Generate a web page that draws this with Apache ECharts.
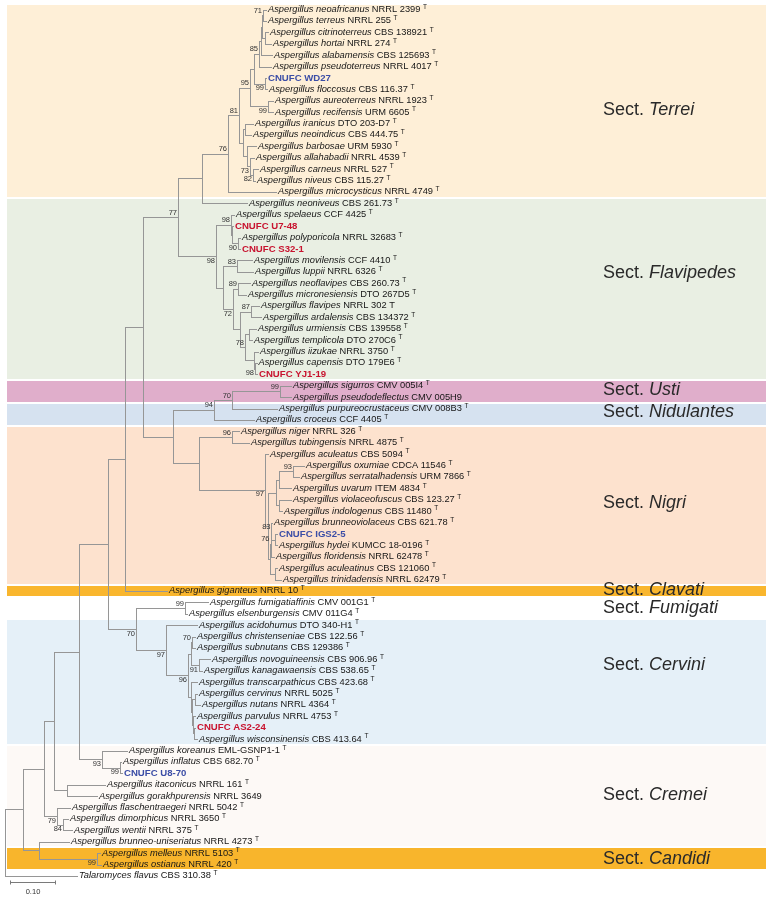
<!DOCTYPE html>
<html><head><meta charset="utf-8">
<script src="https://cdn.jsdelivr.net/npm/echarts@6/dist/echarts.min.js"></script>
<style>html,body{margin:0;padding:0;background:#fff}#c{width:770px;height:897px}</style>
</head><body><div id="c"></div>
<script>
// ---------- DATA ----------
// Leaf taxa, top to bottom
const leafNames = [
 'Aspergillus neoafricanus','Aspergillus terreus','Aspergillus citrinoterreus','Aspergillus hortai','Aspergillus alabamensis',
 'Aspergillus pseudoterreus','','Aspergillus floccosus','Aspergillus aureoterreus','Aspergillus recifensis',
 'Aspergillus iranicus','Aspergillus neoindicus','Aspergillus barbosae','Aspergillus allahabadii','Aspergillus carneus',
 'Aspergillus niveus','Aspergillus microcysticus','Aspergillus neoniveus','Aspergillus spelaeus','',
 'Aspergillus polyporicola','','Aspergillus movilensis','Aspergillus luppii','Aspergillus neoflavipes',
 'Aspergillus micronesiensis','Aspergillus flavipes','Aspergillus ardalensis','Aspergillus urmiensis','Aspergillus templicola',
 'Aspergillus iizukae','Aspergillus capensis','','Aspergillus sigurros','Aspergillus pseudodeflectus',
 'Aspergillus purpureocrustaceus','Aspergillus croceus','Aspergillus niger','Aspergillus tubingensis','Aspergillus aculeatus',
 'Aspergillus oxumiae','Aspergillus serratalhadensis','Aspergillus uvarum','Aspergillus violaceofuscus','Aspergillus indologenus',
 'Aspergillus brunneoviolaceus','','Aspergillus hydei','Aspergillus floridensis','Aspergillus aculeatinus',
 'Aspergillus trinidadensis','Aspergillus giganteus','Aspergillus fumigatiaffinis','Aspergillus elsenburgensis','Aspergillus acidohumus',
 'Aspergillus christenseniae','Aspergillus subnutans','Aspergillus novoguineensis','Aspergillus kanagawaensis','Aspergillus transcarpathicus',
 'Aspergillus cervinus','Aspergillus nutans','Aspergillus parvulus','','Aspergillus wisconsinensis',
 'Aspergillus koreanus','Aspergillus inflatus','','Aspergillus itaconicus','Aspergillus gorakhpurensis',
 'Aspergillus flaschentraegeri','Aspergillus dimorphicus','Aspergillus wentii','Aspergillus brunneo-uniseriatus','Aspergillus melleus',
 'Aspergillus ostianus','Talaromyces flavus'
];
const leafStrains = [
 'NRRL 2399','NRRL 255','CBS 138921','NRRL 274','CBS 125693',
 'NRRL 4017','CNUFC WD27','CBS 116.37','NRRL 1923','URM 6605',
 'DTO 203-D7','CBS 444.75','URM 5930','NRRL 4539','NRRL 527',
 'CBS 115.27','NRRL 4749','CBS 261.73','CCF 4425','CNUFC U7-48',
 'NRRL 32683','CNUFC S32-1','CCF 4410','NRRL 6326','CBS 260.73',
 'DTO 267D5','NRRL 302 T','CBS 134372','CBS 139558','DTO 270C6',
 'NRRL 3750','DTO 179E6','CNUFC YJ1-19','CMV 005I4','CMV 005H9',
 'CMV 008B3','CCF 4405','NRRL 326','NRRL 4875','CBS 5094',
 'CDCA 11546','URM 7866','ITEM 4834','CBS 123.27','CBS 11480',
 'CBS 621.78','CNUFC IGS2-5','KUMCC 18-0196','NRRL 62478','CBS 121060',
 'NRRL 62479','NRRL 10','CMV 001G1','CMV 011G4','DTO 340-H1',
 'CBS 122.56','CBS 129386','CBS 906.96','CBS 538.65','CBS 423.68',
 'NRRL 5025','NRRL 4364','NRRL 4753','CNUFC AS2-24','CBS 413.64',
 'EML-GSNP1-1','CBS 682.70','CNUFC U8-70','NRRL 161','NRRL 3649',
 'NRRL 5042','NRRL 3650','NRRL 375','NRRL 4273','NRRL 5103',
 'NRRL 420','CBS 310.38'
];
// 1 = ex-type (superscript T)
const leafTypeMark = [
 1,1,1,1,1, 1,0,1,1,1, 1,1,1,1,1, 1,1,1,1,0,
 1,0,1,1,1, 1,0,1,1,1, 1,1,0,1,0, 1,1,1,1,1,
 1,1,1,1,1, 1,0,1,1,1, 1,1,1,1,1, 1,1,1,1,1,
 1,1,1,0,1, 1,1,0,1,0, 1,1,1,1,1, 1,1
];
// new isolates of this study
const isolateGroup = {'CNUFC WD27':'blue','CNUFC U7-48':'red','CNUFC S32-1':'red','CNUFC YJ1-19':'red',
  'CNUFC IGS2-5':'blue','CNUFC AS2-24':'red','CNUFC U8-70':'blue'};
// distance of every tip from the root (substitutions per site)
const leafDepths = [
 0.5800,0.5800,0.5844,0.5911,0.5933, 0.5911,0.5800,0.5822,0.5956,0.5956,
 0.5511,0.5467,0.5578,0.5533,0.5622, 0.5556,0.6022,0.5378,0.5089,0.5067,
 0.5222,0.5222,0.5489,0.5511,0.5444, 0.5356,0.5644,0.5689,0.5578,0.5489,
 0.5622,0.5589,0.5600,0.6356,0.6356, 0.6044,0.5533,0.5200,0.5422,0.5844,
 0.6644,0.6533,0.6356,0.6356,0.6156, 0.5933,0.6044,0.6044,0.5978,0.6044,
 0.6133,0.3600,0.4511,0.4044,0.4267, 0.4222,0.4222,0.4556,0.4378,0.4267,
 0.4267,0.4333,0.4222,0.4222,0.4267, 0.2711,0.2578,0.2600,0.2222,0.2044,
 0.1444,0.1400,0.1489,0.1422,0.2111, 0.2133,0.1600
];
// internal nodes: [id, children (leaf index or node id), depth from root, bootstrap, label side]
const clades = [
 ['T1',[0,1],0.5733,'71','a'], ['T2',[2,3],0.5778,'',''], ['T3',['T1','T2'],0.5711,'',''],
 ['T4',['T3',4],0.5689,'',''], ['T5',['T4',5],0.5644,'85','a'], ['T6',[6,7],0.5778,'99','b'],
 ['T7',['T5','T6'],0.5533,'',''], ['T8',[8,9],0.5844,'99','b'], ['T9',['T7','T8'],0.5444,'95','a'],
 ['T10',[10,11],0.5333,'',''], ['T11c',[14,15],0.5511,'82','b'], ['T11b',[13,'T11c'],0.5444,'73','b'],
 ['T11',[12,'T11b'],0.5378,'',''], ['T12',['T10','T11'],0.5289,'',''], ['T13',['T9','T12'],0.5200,'81','a'],
 ['T14',['T13',16],0.4956,'76','a'], ['T15',['T14',17],0.4378,'',''],
 ['Z',[20,21],0.5178,'90','b'], ['Y',[19,'Z'],0.5044,'',''], ['X',[18,'Y'],0.5022,'98','a'],
 ['L1',[22,23],0.5156,'83','a'], ['L2',[24,25],0.5178,'89','a'], ['L3',[26,27],0.5467,'87','a'],
 ['L4',[28,29],0.5422,'',''], ['L5a',[31,32],0.5556,'98','b'], ['L5',[30,'L5a'],0.5533,'',''],
 ['L6',['L4','L5'],0.5333,'78','a'], ['L8',['L3','L6'],0.5222,'',''], ['L7',['L2','L8'],0.5067,'72','b'],
 ['L9',['L1','L7'],0.4844,'',''], ['Flav',['X','L9'],0.4689,'98','b'], ['N77',['T15','Flav'],0.3844,'77','a'],
 ['U1',[33,34],0.6111,'99','a'], ['U2',['U1',35],0.5044,'70','a'], ['U3',['U2',36],0.4644,'94','a'],
 ['N1',[37,38],0.5044,'96','a'], ['n93',[40,41],0.6400,'93','a'], ['U',['n93',42],0.6089,'',''],
 ['VI',[43,44],0.6089,'',''], ['V',['U','VI'],0.6022,'',''], ['H1',[46,47],0.6000,'',''],
 ['H2',[45,'H1'],0.5922,'83','a'], ['H5',['H2',48],0.5900,'76','a'], ['H3',[49,50],0.6000,'',''],
 ['H7',['H5','H3'],0.5878,'',''], ['H6',['V','H7'],0.5844,'',''], ['N2',[39,'H6'],0.5778,'97','b'],
 ['N3',['N1','N2'],0.4311,'',''], ['NUN',['U3','N3'],0.3733,'',''], ['K',['N77','NUN'],0.3067,'',''],
 ['J',['K',51],0.2667,'',''], ['Fum',[52,53],0.4000,'99','a'], ['C70',[55,56],0.4156,'70','a'],
 ['C91',[57,58],0.4311,'91','b'], ['C1',['C70','C91'],0.4133,'',''], ['CN',[60,61],0.4222,'',''],
 ['CW',[63,64],0.4200,'',''], ['CP',[62,'CW'],0.4178,'',''], ['C2',['CN','CP'],0.4156,'',''],
 ['C3',[59,'C2'],0.4133,'',''], ['C96',['C1','C3'],0.4067,'96','b'], ['C97',[54,'C96'],0.3578,'97','b'],
 ['FC',['Fum','C97'],0.2911,'70','b'], ['E',['J','FC'],0.2289,'',''], ['L99',[66,67],0.2556,'99','b'],
 ['K93',[65,'L99'],0.2156,'93','b'], ['D',['E','K93'],0.1644,'',''], ['I',[68,69],0.1378,'',''],
 ['F',['D','I'],0.1089,'',''], ['H84',[71,72],0.1289,'84','b'], ['H79',[70,'H84'],0.1156,'79','b'],
 ['B',['F','H79'],0.0867,'',''], ['Cand',[74,75],0.2044,'99','b'], ['C',[73,'Cand'],0.0756,'',''],
 ['A',['B','C'],0.0400,'',''], ['root',['A',76],0.0000,'','']
];
// sections: [name, first leaf, last leaf]
const sectionNames = ['Terrei','Flavipedes','Usti','Nidulantes','Nigri','Clavati','Fumigati','Cervini','Cremei','Candidi'];
const sectionFirst = [0,17,33,35,37,51,52,54,65,74];
const sectionLast  = [16,32,34,36,50,51,53,64,73,75];
const scaleBarLength = 0.10;

// ---------- LAYOUT / STYLE ----------
const sectionColors = ['#FEEFD7','#E9EFE3','#E0AECB','#D6E2F0','#FDE2CE','#F9B62E','#FFFFFF','#E5F0F8','#FDF9F6','#F8B52C'];
const sectionLabelRow = [8.8,23.1,33.4,35.3,43.3,50.9,52.5,57.5,68.9,74.5];
const isoColors = {blue:'#3B4DA6', red:'#C8132F'};
const FONT = "'Liberation Sans', Arial, Helvetica, sans-serif";
const LINE = '#969696';

// ---------- TREE GEOMETRY ----------
const cladeMap = {};
clades.forEach(c => { cladeMap[c[0]] = c; });
const rowCache = {};
function rowOf(ref) {
  if (typeof ref === 'number') return ref;
  if (rowCache[ref] !== undefined) return rowCache[ref];
  const k = cladeMap[ref][1];
  const r = (rowOf(k[0]) + rowOf(k[k.length - 1])) / 2;
  rowCache[ref] = r; return r;
}
function depthOf(ref) { return typeof ref === 'number' ? leafDepths[ref] : cladeMap[ref][2]; }
const segments = [];
clades.forEach(c => {
  const d = c[2], k = c[1];
  segments.push([d, rowOf(k[0]), d, rowOf(k[k.length - 1])]);
  k.forEach(ch => segments.push([d, rowOf(ch), depthOf(ch), rowOf(ch)]));
});
const supportData = clades.filter(c => c[3]).map(c => [c[2], rowOf(c[0]), c[3], c[4]]);
const leafData = leafNames.map((n, i) => [leafDepths[i], i, i]);
const bandData = sectionNames.map((n, i) => [sectionFirst[i], sectionLast[i], i]);

const chart = echarts.init(document.getElementById('c'));
const px = v => Math.round(v) + 0.5;

function richLabel(i) {
  const strain = leafStrains[i];
  if (!leafNames[i]) return '{' + isolateGroup[strain] + '|' + strain + '}';
  return '{i|' + leafNames[i] + '} {n|' + strain + '}' + (leafTypeMark[i] ? ' {s|T}' : '');
}
const baseTok = {fontFamily: FONT, fontSize: 9.3, lineHeight: 12, fill: '#161616'};

chart.setOption({
  animation: false,
  backgroundColor: '#ffffff',
  grid: {left: 5, top: 9.5, width: 450, height: 866.4},
  xAxis: {type: 'value', min: 0, max: 1, show: false},
  yAxis: {type: 'value', min: 0, max: 76, inverse: true, show: false},
  series: [
    { // section bands
      type: 'custom', z: 1, silent: true, data: bandData,
      renderItem: (params, api) => {
        const y1 = api.coord([0, api.value(0) - 0.5])[1];
        const y2 = api.coord([0, api.value(1) + 0.5])[1];
        const i = api.value(2);
        const w = api.getWidth();
        const name = sectionNames[i];
        const ly = api.coord([0, sectionLabelRow[i]])[1];
        return {type: 'group', children: [
          {type: 'rect', shape: {x: 7, y: Math.round(y1) + 1, width: w - 11, height: Math.round(y2) - Math.round(y1) - 2},
           style: {fill: sectionColors[i]}},
          {type: 'text', style: {x: 603, y: ly, text: '{n|Sect. }{i|' + name + '}', verticalAlign: 'middle', align: 'left',
            rich: {n: {fontFamily: FONT, fontSize: 18, fill: '#2a2a2a'},
                   i: {fontFamily: FONT, fontSize: 18, fontStyle: 'italic', fill: '#2a2a2a'}}}}
        ]};
      }
    },
    { // branches
      type: 'custom', z: 3, silent: true, data: segments,
      renderItem: (params, api) => {
        const a = api.coord([api.value(0), api.value(1)]);
        const b = api.coord([api.value(2), api.value(3)]);
        return {type: 'line', shape: {x1: px(a[0]), y1: px(a[1]), x2: px(b[0]), y2: px(b[1])},
          style: {stroke: LINE, lineWidth: 1, lineCap: 'square'}};
      }
    },
    { // leaf labels
      type: 'custom', z: 4, silent: true, data: leafData,
      renderItem: (params, api) => {
        const p = api.coord([api.value(0), api.value(1)]);
        const i = api.value(2);
        return {type: 'text', style: {x: p[0] + 2, y: p[1], text: richLabel(i), align: 'left', verticalAlign: 'middle',
          fontFamily: FONT, fontSize: 9.3, fill: '#161616',
          rich: {
            i: Object.assign({}, baseTok, {fontStyle: 'italic'}),
            n: baseTok,
            s: {fontFamily: FONT, fontSize: 6.5, lineHeight: 6, verticalAlign: 'top', fill: '#161616'},
            blue: Object.assign({}, baseTok, {fontWeight: 'bold', fill: isoColors.blue, fontSize: 9.6}),
            red: Object.assign({}, baseTok, {fontWeight: 'bold', fill: isoColors.red, fontSize: 9.6})
          }}};
      }
    },
    { // bootstrap values
      type: 'custom', z: 5, silent: true, data: supportData,
      renderItem: (params, api) => {
        const p = api.coord([api.value(0), api.value(1)]);
        const side = supportData[params.dataIndex][3];
        return {type: 'text', style: {x: p[0] - 1, y: p[1] + (side === 'a' ? -4.5 : 4.5),
          text: supportData[params.dataIndex][2], align: 'right', verticalAlign: 'middle',
          fontFamily: FONT, fontSize: 7.5, fill: '#333333'}};
      }
    },
    { // scale bar
      type: 'custom', z: 5, silent: true, data: [[0, scaleBarLength]],
      renderItem: (params, api) => {
        const a = api.coord([api.value(0), 76.5]);
        const b = api.coord([api.value(0) + api.value(1), 76.5]);
        const x1 = px(a[0] + 5), x2 = px(b[0] + 5), y = px(a[1]);
        return {type: 'group', children: [
          {type: 'line', shape: {x1: x1, y1: y, x2: x2, y2: y}, style: {stroke: '#7a7a7a', lineWidth: 1}},
          {type: 'line', shape: {x1: x1, y1: y - 2, x2: x1, y2: y + 2}, style: {stroke: '#7a7a7a', lineWidth: 1}},
          {type: 'line', shape: {x1: x2, y1: y - 2, x2: x2, y2: y + 2}, style: {stroke: '#7a7a7a', lineWidth: 1}},
          {type: 'text', style: {x: (x1 + x2) / 2, y: y + 9, text: scaleBarLength.toFixed(2), align: 'center',
            verticalAlign: 'middle', fontFamily: FONT, fontSize: 7.5, fill: '#333333'}}
        ]};
      }
    }
  ]
});
</script></body></html>
